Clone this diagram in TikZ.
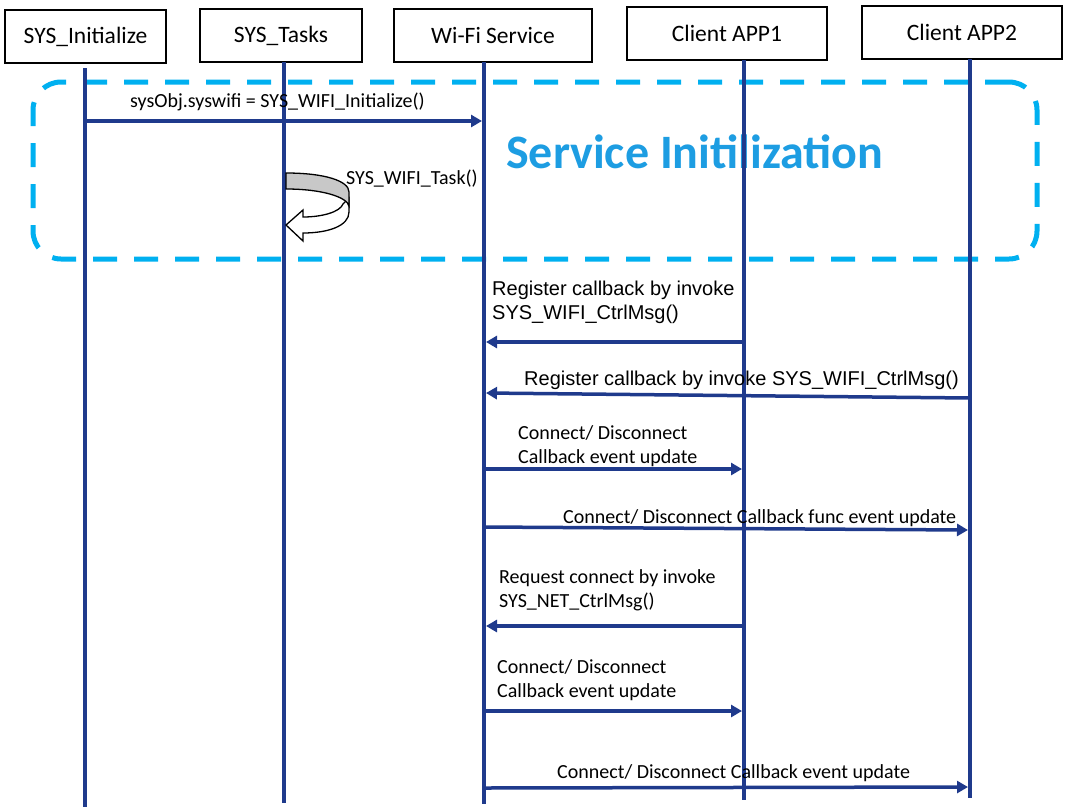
\documentclass[tikz,border=0pt]{standalone}
\usepackage{fontspec}
\setmainfont{Carlito}
\newfontfamily\arialfont{Liberation Sans}
\usetikzlibrary{arrows.meta}
\definecolor{lifeblue}{RGB}{31,58,140}
\definecolor{dashblue}{RGB}{0,176,240}
\definecolor{titleblue}{RGB}{29,157,226}
\definecolor{loopgray}{RGB}{200,200,200}
\begin{document}
\begin{tikzpicture}[x=1pt,y=-1pt,
  actor/.style={draw=black, line width=2pt, fill=white, minimum height=53pt, inner sep=0pt, font=\fontsize{23.5}{28}\selectfont},
  lifeline/.style={draw=lifeblue, line width=3.5pt},
  msg/.style={draw=lifeblue, line width=3.5pt, -{Triangle[length=11pt,width=12pt]}},
  lbl/.style={inner sep=0pt, anchor=base west, font=\fontsize{20}{24}\selectfont, align=left},
  albl/.style={lbl, font=\arialfont\fontsize{20}{24}\selectfont},
  frame/.style={draw=dashblue, line width=5pt, dash pattern=on 24pt off 17pt, rounded corners=28pt, inner sep=0pt},
]
\useasboundingbox (0,0) rectangle (1068,807);
% frame and title
\node[frame, minimum width=1004pt, minimum height=177pt] (frame) at (535,170.5) {};
\node[inner sep=0pt, anchor=base west, text=titleblue, font=\fontsize{48}{56}\selectfont\bfseries] (title) at (506,168) {Service Initilization};
% actors
\node[actor, minimum width=161pt] (init) at (85.5,36.5) {SYS\_Initialize};
\node[actor, minimum width=162pt] (tasks) at (281,35.5) {SYS\_Tasks};
\node[actor, minimum width=198pt] (wifi) at (493,35) {Wi-Fi Service};
\node[actor, minimum width=200pt] (app1) at (727,33.5) {Client APP1};
\node[actor, minimum width=200pt] (app2) at (962,32.5) {Client APP2};
% lifelines
\coordinate (initT) at (85,68);   \coordinate (initB) at (85,807);
\coordinate (tasksT) at (284,62); \coordinate (tasksB) at (284,803);
\coordinate (wifiT) at (484,62);  \coordinate (wifiB) at (484,804);
\coordinate (app1T) at (744,60);  \coordinate (app1B) at (744,800);
\coordinate (app2T) at (970,59);  \coordinate (app2B) at (970,798);
\draw[lifeline] (initT) -- (initB);
\draw[lifeline] (tasksT) -- (tasksB);
\draw[lifeline] (wifiT) -- (wifiB);
\draw[lifeline] (app1T) -- (app1B);
\draw[lifeline] (app2T) -- (app2B);
% message 1
\coordinate (m1s) at (85,121); \coordinate (m1e) at (482,121);
\draw[msg] (m1s) -- (m1e);
\node[lbl] (l1) at (130,107) {sysObj.syswifi = SYS\_WIFI\_Initialize()};
% self loop on SYS_Tasks
\filldraw[fill=white, draw=black, line width=1.3pt]
  (349,198) -- (349,212) .. controls (349,226) and (328,233) .. (303,233)
  -- (303,241) -- (286,225) -- (303,210) -- (303,217)
  .. controls (322,217) and (340,212) .. (343,204) -- cycle;
\filldraw[fill=loopgray, draw=black, line width=1.3pt]
  (286,173) .. controls (325,173) and (349,181) .. (349,192) -- (349,206)
  .. controls (347,197) and (322,189) .. (286,189) -- cycle;
\node[lbl] (l2) at (346,184) {SYS\_WIFI\_Task()};
% message 2
\coordinate (m2s) at (744,342); \coordinate (m2e) at (486,342);
\draw[msg] (m2s) -- (m2e);
\node[albl] (l3) at (492,319) {Register callback by invoke\\SYS\_WIFI\_CtrlMsg()};
% message 3
\coordinate (m3s) at (970,398); \coordinate (m3e) at (486,393);
\draw[msg] (m3s) -- (m3e);
\node[albl] (l4) at (524,385) {Register callback by invoke SYS\_WIFI\_CtrlMsg()};
% message 4
\coordinate (m4s) at (484,469); \coordinate (m4e) at (742,469);
\draw[msg] (m4s) -- (m4e);
\node[lbl] (l5) at (518,463) {Connect/ Disconnect\\Callback event update};
% message 5
\coordinate (m5s) at (484,527); \coordinate (m5e) at (968,530);
\draw[msg] (m5s) -- (m5e);
\node[lbl] (l6) at (563,523) {Connect/ Disconnect Callback func event update};
% message 6
\coordinate (m6s) at (744,626); \coordinate (m6e) at (486,626);
\draw[msg] (m6s) -- (m6e);
\node[lbl] (l7) at (499,607) {Request connect by invoke\\SYS\_NET\_CtrlMsg()};
% message 7
\coordinate (m7s) at (484,711); \coordinate (m7e) at (742,711);
\draw[msg] (m7s) -- (m7e);
\node[lbl] (l8) at (497,697) {Connect/ Disconnect\\Callback event update};
% message 8
\coordinate (m8s) at (484,788); \coordinate (m8e) at (968,787);
\draw[msg] (m8s) -- (m8e);
\node[lbl] (l9) at (557,778) {Connect/ Disconnect Callback event update};
\end{tikzpicture}
\end{document}
